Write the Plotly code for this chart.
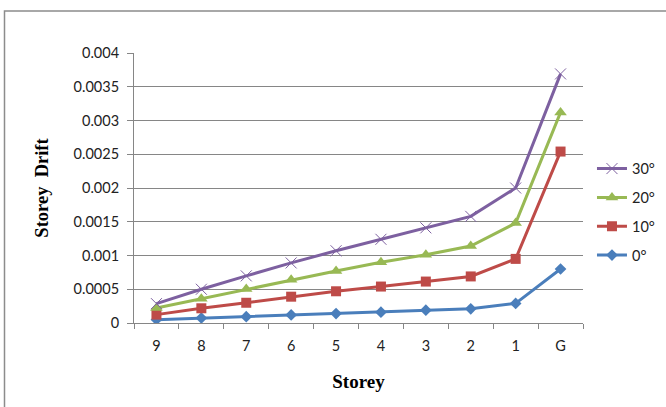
import plotly.graph_objects as go

storeys = ["9", "8", "7", "6", "5", "4", "3", "2", "1", "G"]
series_names = ["0°", "10°", "20°", "30°"]
drift_0 = [0.00005, 0.000074, 0.000094, 0.00012, 0.00014, 0.00016, 0.00019, 0.00021, 0.00029, 0.0008]
drift_10 = [0.000124, 0.000218, 0.0003, 0.00039, 0.00047, 0.00054, 0.000614, 0.00069, 0.00095, 0.00254]
drift_20 = [0.000223, 0.00036, 0.000505, 0.00064, 0.00077, 0.0009, 0.00101, 0.00114, 0.00148, 0.00312]
drift_30 = [0.000287, 0.0005, 0.000698, 0.00089, 0.00107, 0.00124, 0.00141, 0.00158, 0.002, 0.00369]

colors = ["#4A7EBB", "#BE4B48", "#98B954", "#7D60A0"]
symbols = ["diamond", "square", "triangle-up", "x-thin"]
sizes = [9, 10, 11, 11]

W, H = 666, 407
L, R, T, B = 134, 83, 53, 84
pw, ph = W - L - R, H - T - B

fig = go.Figure()
for i, (name, vals, c, s, sz) in enumerate(zip(series_names, [drift_0, drift_10, drift_20, drift_30],
                                               colors, symbols, sizes)):
    marker = dict(symbol=s, size=sz, color=c)
    if s == "x-thin":
        marker["line"] = dict(color=c, width=1)
    fig.add_trace(go.Scatter(x=storeys, y=vals, name=name, mode="lines+markers", legendgroup=name,
                             legendrank=100 - i,
                             line=dict(color=c, width=3), marker=marker))

tickfont = dict(family="Lato", size=14.5, color="#222222")
fig.update_layout(
    width=W, height=H,
    margin=dict(l=L, r=R, t=T, b=B, autoexpand=False),
    paper_bgcolor="white", plot_bgcolor="white",
    showlegend=True,
    legend=dict(traceorder="grouped", x=1.02, y=0.631, xanchor="left", yanchor="top",
                font=dict(family="Lato", size=14.5, color="#222222"),
                itemwidth=30, tracegroupgap=7, bgcolor="rgba(0,0,0,0)"),
    xaxis=dict(type="category", range=[-0.5, 9.5], showgrid=False, showline=True,
               linecolor="#868686", linewidth=1, ticks="outside", tickson="boundaries",
               ticklen=5, tickcolor="#868686", tickfont=tickfont, zeroline=False,
               ticklabelstandoff=10, automargin=False,
               title=dict(text="<b>Storey</b>", font=dict(family="Liberation Serif", size=19, color="black"),
                          standoff=21)),
    yaxis=dict(range=[0, 0.004], dtick=0.0005, tickformat="~g", showgrid=True,
               gridcolor="#868686", gridwidth=1, showline=True, linecolor="#868686",
               linewidth=1, ticks="outside", ticklen=6, tickcolor="#868686",
               tickfont=tickfont, zeroline=False, ticklabelstandoff=5, automargin=False,
               title=dict(text="<b>Storey\u00a0 Drift</b>", font=dict(family="Liberation Serif", size=18.5, color="black"),
                          standoff=20)),
    shapes=[dict(type="rect", xref="paper", yref="paper",
                 x0=(4.5 - L) / pw, x1=(W + 10 - L) / pw,
                 y0=(T + ph - (H + 10)) / ph, y1=(T + ph - 11) / ph,
                 line=dict(color="#8C8C8C", width=1.5), fillcolor="rgba(0,0,0,0)", layer="below")],
)

fig.write_html("out.html", config={"displayModeBar": False},
               post_script="document.body.style.margin='0';document.body.style.overflow='hidden';")
